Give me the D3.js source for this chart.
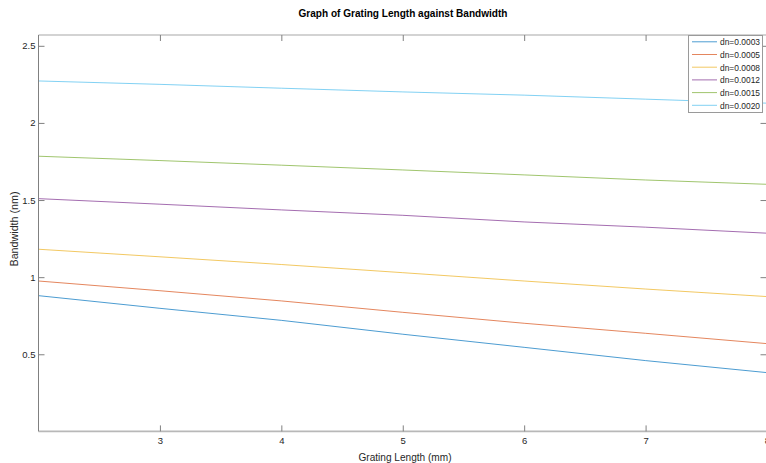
<!DOCTYPE html>
<html>
<head>
<meta charset="utf-8">
<script src="https://cdn.jsdelivr.net/npm/d3@7"></script>
<style>
  html, body { margin: 0; padding: 0; background: #fff; }
  svg { display: block; font-family: "Liberation Sans", Arial, Helvetica, sans-serif; }
</style>
</head>
<body>
<svg id="chart" width="766" height="463"></svg>
<script>
// ---- data ----
const gratingLength = [2, 3, 4, 5, 6, 7, 8];            // mm
const seriesNames = ["dn=0.0003", "dn=0.0005", "dn=0.0008", "dn=0.0012", "dn=0.0015", "dn=0.0020"];
const bw_dn0003 = [0.880, 0.798, 0.720, 0.630, 0.545, 0.459, 0.381];
const bw_dn0005 = [0.975, 0.912, 0.846, 0.772, 0.701, 0.636, 0.569];
const bw_dn0008 = [1.181, 1.132, 1.082, 1.029, 0.975, 0.923, 0.874];
const bw_dn0012 = [1.509, 1.473, 1.436, 1.401, 1.358, 1.324, 1.285];
const bw_dn0015 = [1.784, 1.756, 1.726, 1.695, 1.663, 1.630, 1.602];
const bw_dn0020 = [2.272, 2.250, 2.225, 2.201, 2.180, 2.154, 2.128];
const xTicks = [3, 4, 5, 6, 7, 8];
const yTicks = [0.5, 1, 1.5, 2, 2.5];
const colors = ["#0072BD", "#D95319", "#EDB120", "#7E2F8E", "#77AC30", "#4DBEEE"];

const seriesValues = [bw_dn0003, bw_dn0005, bw_dn0008, bw_dn0012, bw_dn0015, bw_dn0020];

// ---- layout ----
const pLeft = 38.5, pRight = 767, pTop = 35, pBottom = 431.4;
const svg = d3.select("#chart");

const x = d3.scaleLinear().domain([2, 8]).range([pLeft, pRight]);
const y = d3.scaleLinear().domain([0, 2.57]).range([pBottom, pTop]);

const textColor = "#262626";

// Title
svg.append("text")
  .attr("x", 403).attr("y", 17)
  .attr("text-anchor", "middle")
  .attr("font-size", 11).attr("font-weight", "bold")
  .attr("fill", "#000")
  .attr("textLength", 209).attr("lengthAdjust", "spacingAndGlyphs")
  .text("Graph of Grating Length against Bandwidth");

// Lines
const line = d3.line().x((d, i) => x(gratingLength[i])).y(d => y(d));
const g = svg.append("g");
seriesValues.forEach((vals, k) => {
  g.append("path")
    .datum(vals)
    .attr("d", line)
    .attr("fill", "none")
    .attr("stroke", colors[k])
    .attr("stroke-opacity", 0.7)
    .attr("stroke-width", 1);
});

// Box lines
svg.append("line").attr("x1", pLeft).attr("x2", pRight).attr("y1", pTop).attr("y2", pTop)
  .attr("stroke", "#c4c4c4").attr("stroke-width", 1.6);
svg.append("line").attr("x1", pLeft).attr("x2", pRight).attr("y1", pBottom).attr("y2", pBottom)
  .attr("stroke", "#b8b8b8").attr("stroke-width", 1.6);
svg.append("line").attr("x1", pLeft).attr("x2", pLeft).attr("y1", pTop).attr("y2", pBottom)
  .attr("stroke", "#808080").attr("stroke-width", 1);
svg.append("line").attr("x1", pRight - 0.5).attr("x2", pRight - 0.5).attr("y1", pTop).attr("y2", pBottom)
  .attr("stroke", "#808080").attr("stroke-width", 1);

// Axes via d3 axis generators
const tickLen = 6;
const xAxisBottom = d3.axisBottom(x).tickValues(xTicks).tickSize(-tickLen).tickPadding(6).tickFormat(d3.format("d"));
const xAxisTop = d3.axisTop(x).tickValues(xTicks).tickSize(-tickLen).tickFormat("");
const yAxisLeft = d3.axisLeft(y).tickValues(yTicks).tickSize(-tickLen).tickPadding(3).tickFormat(d => d3.format("")(d));
const yAxisRight = d3.axisRight(y).tickValues(yTicks).tickSize(-tickLen).tickFormat("");

function styleAxis(sel) {
  sel.select(".domain").remove();
  sel.selectAll(".tick line").attr("stroke", "#808080").attr("stroke-width", 1);
  sel.selectAll(".tick text").attr("fill", textColor).attr("font-size", 9.5)
    .attr("font-family", "'Liberation Sans', Arial, sans-serif");
}

svg.append("g").attr("transform", `translate(0,${pBottom})`).call(xAxisBottom).call(styleAxis);
svg.append("g").attr("transform", `translate(0,${pTop})`).call(xAxisTop).call(styleAxis);
svg.append("g").attr("transform", `translate(${pLeft},0)`).call(yAxisLeft).call(styleAxis);
svg.append("g").attr("transform", `translate(${pRight - 0.5},0)`).call(yAxisRight).call(styleAxis);

// Axis labels
svg.append("text")
  .attr("x", 405).attr("y", 461)
  .attr("text-anchor", "middle").attr("font-size", 10.5).attr("fill", textColor)
  .attr("textLength", 93).attr("lengthAdjust", "spacingAndGlyphs")
  .text("Grating Length (mm)");
svg.append("text")
  .attr("transform", "translate(18,229) rotate(-90)")
  .attr("text-anchor", "middle").attr("font-size", 10.5).attr("fill", textColor)
  .attr("textLength", 75).attr("lengthAdjust", "spacingAndGlyphs")
  .text("Bandwidth (nm)");

// Legend
const lg = svg.append("g");
const lx = 688, ly = 35, lw = 74, lh = 77;
lg.append("rect").attr("x", lx + 0.5).attr("y", ly + 0.5).attr("width", lw).attr("height", lh)
  .attr("fill", "#fff").attr("stroke", "#9a9a9a").attr("stroke-width", 1);
seriesNames.forEach((name, k) => {
  const yy = ly + 6.8 + k * 12.7;
  lg.append("line").attr("x1", lx + 4).attr("x2", lx + 29).attr("y1", yy).attr("y2", yy)
    .attr("stroke", colors[k]).attr("stroke-opacity", 0.7).attr("stroke-width", 1);
  lg.append("text").attr("x", lx + 32).attr("y", yy + 3.3)
    .attr("font-size", 9).attr("fill", textColor)
    .attr("textLength", 40).attr("lengthAdjust", "spacingAndGlyphs")
    .text(name);
});
</script>
</body>
</html>
